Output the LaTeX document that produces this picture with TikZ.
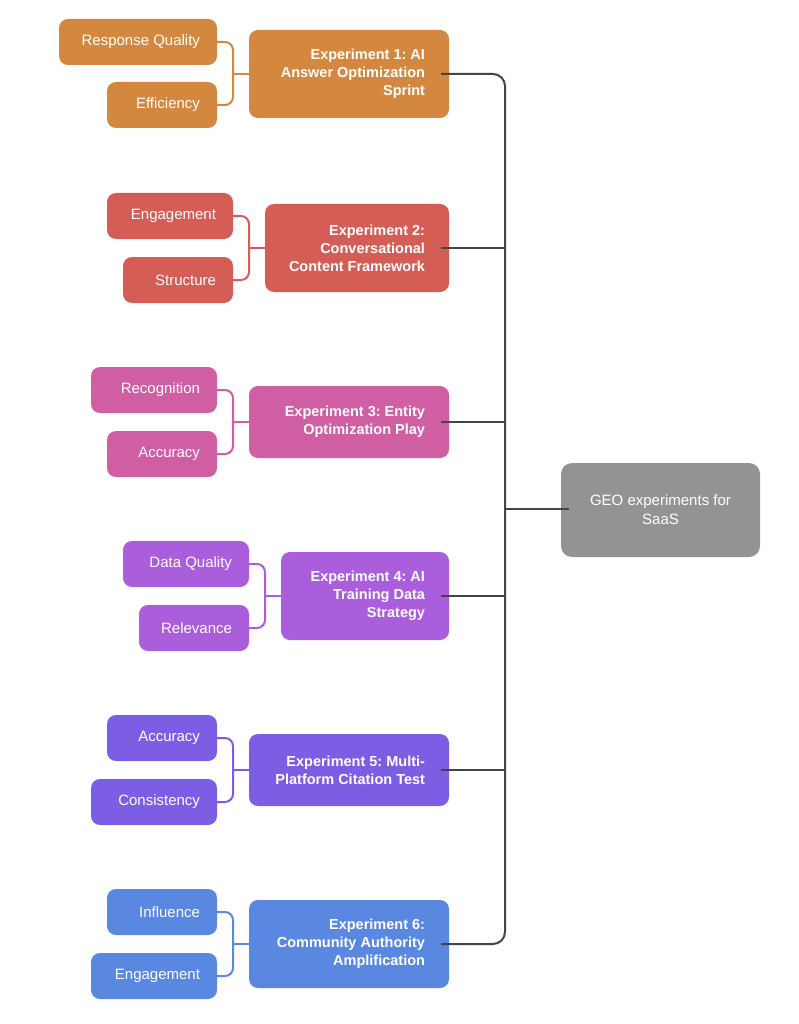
\documentclass[tikz,border=0pt]{standalone}
\usepackage{fontspec}
\setmainfont{Liberation Sans}
\usetikzlibrary{calc}
\frenchspacing
\definecolor{corange}{HTML}{D4883F}
\definecolor{cred}{HTML}{D45E56}
\definecolor{cpink}{HTML}{CF5EA2}
\definecolor{cpurple}{HTML}{AB5EDC}
\definecolor{cindigo}{HTML}{7B5EE4}
\definecolor{cblue}{HTML}{5A87E0}
\definecolor{cgray}{HTML}{939393}
\definecolor{ctrunk}{HTML}{454545}
\tikzset{
  child/.style={fill=#1, draw=none, rounded corners=9pt, text=white, align=flush right,
    inner xsep=17pt, inner ysep=0pt, minimum height=46pt,
    font=\fontsize{15}{18}\selectfont\frenchspacing},
  exper/.style={fill=#1, draw=none, rounded corners=9pt, text=white, align=flush right,
    inner xsep=24pt, inner ysep=0pt,
    font=\fontsize{14.5}{18}\selectfont\bfseries\frenchspacing},
  bracket/.style={draw=#1, line width=2pt, rounded corners=8pt},
  trunk/.style={draw=ctrunk, line width=2pt},
}
\begin{document}
\begin{tikzpicture}[x=1pt,y=-1pt]
\useasboundingbox[fill=white] (0,0) rectangle (798,1024);

% central node
\node[fill=cgray, rounded corners=11pt, text=white, align=flush center, text width=170pt,
  minimum width=199pt, minimum height=94pt, inner sep=0pt,
  font=\fontsize{15}{19}\selectfont] (geo) at (660.5,510) {GEO experiments for\\SaaS};

% group 1
\node[exper=corange, text width=152pt, minimum height=88pt] (e1) at (349,74) {Experiment 1: AI\\Answer Optimization\\Sprint};
\node[child=corange, text width=124pt] (c1a) at (138,42) {Response Quality};
\node[child=corange, text width=76pt] (c1b) at (162,105) {Efficiency};

% group 2
\node[exper=cred, text width=136pt, minimum height=88pt] (e2) at (357,248) {Experiment 2:\\Conversational\\Content Framework};
\node[child=cred, text width=92pt] (c2a) at (170,216) {Engagement};
\node[child=cred, text width=76pt] (c2b) at (178,280) {Structure};

% group 3
\node[exper=cpink, text width=152pt, minimum height=72pt] (e3) at (349,422) {Experiment 3: Entity\\Optimization Play};
\node[child=cpink, text width=92pt] (c3a) at (154,390) {Recognition};
\node[child=cpink, text width=76pt] (c3b) at (162,454) {Accuracy};

% group 4
\node[exper=cpurple, text width=120pt, minimum height=88pt] (e4) at (365,596) {Experiment 4: AI\\Training Data\\Strategy};
\node[child=cpurple, text width=92pt] (c4a) at (186,564) {Data Quality};
\node[child=cpurple, text width=76pt] (c4b) at (194,628) {Relevance};

% group 5
\node[exper=cindigo, text width=152pt, minimum height=72pt] (e5) at (349,770) {Experiment 5: Multi-\\Platform Citation Test};
\node[child=cindigo, text width=76pt] (c5a) at (162,738) {Accuracy};
\node[child=cindigo, text width=92pt] (c5b) at (154,802) {Consistency};

% group 6
\node[exper=cblue, text width=152pt, minimum height=88pt] (e6) at (349,944) {Experiment 6:\\Community Authority\\Amplification};
\node[child=cblue, text width=76pt] (c6a) at (162,912) {Influence};
\node[child=cblue, text width=92pt] (c6b) at (154,976) {Engagement};

% brackets
\foreach \g/\col in {1/corange,2/cred,3/cpink,4/cpurple,5/cindigo,6/cblue}{
  \coordinate (m\g) at ($(c\g a.east)!0.5!(e\g.west)$);
  \coordinate (j\g) at (m\g |- e\g.west);
  \draw[bracket=\col] (c\g a.east) -| (j\g) |- (c\g b.east);
  \draw[bracket=\col] (j\g) -- (e\g.west);
}

% trunk
\coordinate (t) at (505,509);
\draw[trunk, rounded corners=12pt] ([xshift=-8pt]e1.east) -| (t) |- ([xshift=-8pt]e6.east);
\foreach \k in {2,3,4,5}{
  \draw[trunk] ([xshift=-8pt]e\k.east) -- (e\k.east -| t);
}
\draw[trunk] (t) -- ([xshift=8pt]geo.west |- t);
\end{tikzpicture}
\end{document}
